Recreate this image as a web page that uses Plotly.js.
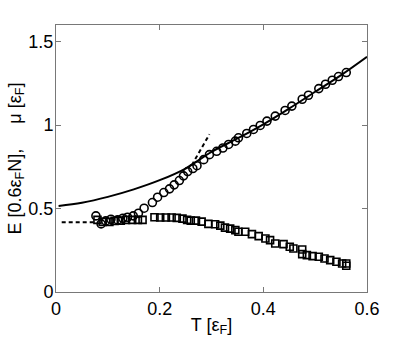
<!DOCTYPE html>
<html>
<head>
<meta charset="utf-8">
<script src="https://cdn.plot.ly/plotly-3.0.1.min.js"></script>
<style>
  html, body { margin: 0; padding: 0; background: #fff; }
  #chart { width: 409px; height: 344px; }
</style>
</head>
<body>
<div id="chart"></div>
<script>
// mu(T): solid curve
const curveT = [0.005, 0.05, 0.1, 0.15, 0.2, 0.25, 0.3, 0.35, 0.4, 0.45, 0.5, 0.55, 0.6]
const curveMu = [0.516, 0.535, 0.57, 0.615, 0.67, 0.74, 0.84, 0.92, 1.005, 1.1, 1.2, 1.3, 1.41]

// dashed guides
const steepT = [0.262, 0.296]
const steepE = [0.76, 0.945]
const lowT = [0.011, 0.075]
const lowE = [0.418, 0.418]

// circles
const circT = [0.077, 0.087, 0.096, 0.106, 0.119, 0.129, 0.138, 0.149, 0.159, 0.170,
  0.186, 0.196, 0.208, 0.219, 0.228, 0.238, 0.246, 0.254, 0.264, 0.272,
  0.285, 0.296, 0.310, 0.322, 0.333, 0.346, 0.352, 0.368, 0.381, 0.394,
  0.407, 0.423, 0.442, 0.455, 0.475, 0.487, 0.507, 0.520, 0.533, 0.545, 0.560]
const circE = [0.456, 0.408, 0.426, 0.436, 0.432, 0.442, 0.448, 0.456, 0.472, 0.502,
  0.536, 0.568, 0.596, 0.618, 0.642, 0.668, 0.696, 0.722, 0.740, 0.757,
  0.793, 0.823, 0.843, 0.863, 0.884, 0.904, 0.924, 0.950, 0.974, 0.998,
  1.024, 1.054, 1.088, 1.114, 1.155, 1.179, 1.219, 1.245, 1.269, 1.291, 1.315]

// squares
const sqT = [0.080, 0.090, 0.103, 0.113, 0.125, 0.135, 0.147, 0.158, 0.167, 0.190,
  0.201, 0.212, 0.223, 0.233, 0.244, 0.253, 0.260, 0.270, 0.281, 0.294,
  0.307, 0.317, 0.326, 0.336, 0.346, 0.352, 0.365, 0.378, 0.391, 0.404,
  0.413, 0.423, 0.439, 0.451, 0.458, 0.475, 0.475, 0.484, 0.495, 0.507,
  0.518, 0.529, 0.541, 0.552, 0.560, 0.560]
const sqE = [0.432, 0.420, 0.420, 0.426, 0.428, 0.432, 0.432, 0.432, 0.432, 0.448,
  0.446, 0.446, 0.446, 0.444, 0.440, 0.432, 0.428, 0.428, 0.422, 0.408,
  0.406, 0.398, 0.386, 0.380, 0.371, 0.361, 0.361, 0.347, 0.335, 0.321,
  0.311, 0.291, 0.287, 0.271, 0.261, 0.255, 0.227, 0.221, 0.215, 0.211,
  0.201, 0.191, 0.181, 0.171, 0.157, 0.171]

const xTicks = [0, 0.2, 0.4, 0.6]
const xTickText = ['0', '0.2', '0.4', '0.6']
const yTicks = [0, 0.5, 1, 1.5]
const yTickText = ['0', '0.5', '1', '1.5']

const font = '"Liberation Sans", Arial, sans-serif'
const axisGray = 'rgb(120,120,120)'

const data = [
  {
    x: curveT, y: curveMu, type: 'scatter', mode: 'lines',
    line: {color: '#000', width: 2, shape: 'spline'}
  },
  {
    x: steepT, y: steepE, type: 'scatter', mode: 'lines',
    line: {color: '#000', width: 2, dash: '4px,3px'}
  },
  {
    x: lowT, y: lowE, type: 'scatter', mode: 'lines',
    line: {color: '#000', width: 2, dash: '4px,3px'}
  },
  {
    x: circT, y: circE, type: 'scatter', mode: 'markers',
    marker: {symbol: 'circle-open', size: 8, color: '#000', line: {width: 1.6, color: '#000'}}
  },
  {
    x: sqT, y: sqE, type: 'scatter', mode: 'markers',
    marker: {symbol: 'square-open', size: 7, color: '#000', line: {width: 1.6, color: '#000'}}
  }
]

const layout = {
  width: 409,
  height: 344,
  margin: {l: 56, r: 42, t: 25, b: 52},
  paper_bgcolor: '#fff',
  plot_bgcolor: '#fff',
  showlegend: false,
  font: {family: font, size: 18, color: '#000'},
  xaxis: {
    range: [0, 0.6],
    tickvals: xTicks,
    ticktext: xTickText,
    ticks: 'inside',
    ticklen: 5,
    tickcolor: axisGray,
    showline: true,
    linecolor: axisGray,
    linewidth: 1,
    mirror: 'ticks',
    showgrid: false,
    zeroline: false,
    tickfont: {size: 18},
    title: {text: 'T [ε<sub>F</sub>]', font: {size: 18}, standoff: 0}
  },
  yaxis: {
    range: [0, 1.6],
    tickvals: yTicks,
    ticktext: yTickText,
    ticks: 'inside',
    ticklen: 5,
    tickcolor: axisGray,
    showline: true,
    linecolor: axisGray,
    linewidth: 1,
    mirror: 'ticks',
    showgrid: false,
    zeroline: false,
    tickfont: {size: 18},
    ticklabelstandoff: -2,
    title: {text: 'E [0.6ε<sub>F</sub>N],\u00a0\u00a0\u00a0\u00a0 μ [ε<sub>F</sub>]', font: {size: 18}, standoff: 2}
  }
}

Plotly.newPlot('chart', data, layout, {displayModeBar: false, staticPlot: true})
</script>
</body>
</html>
